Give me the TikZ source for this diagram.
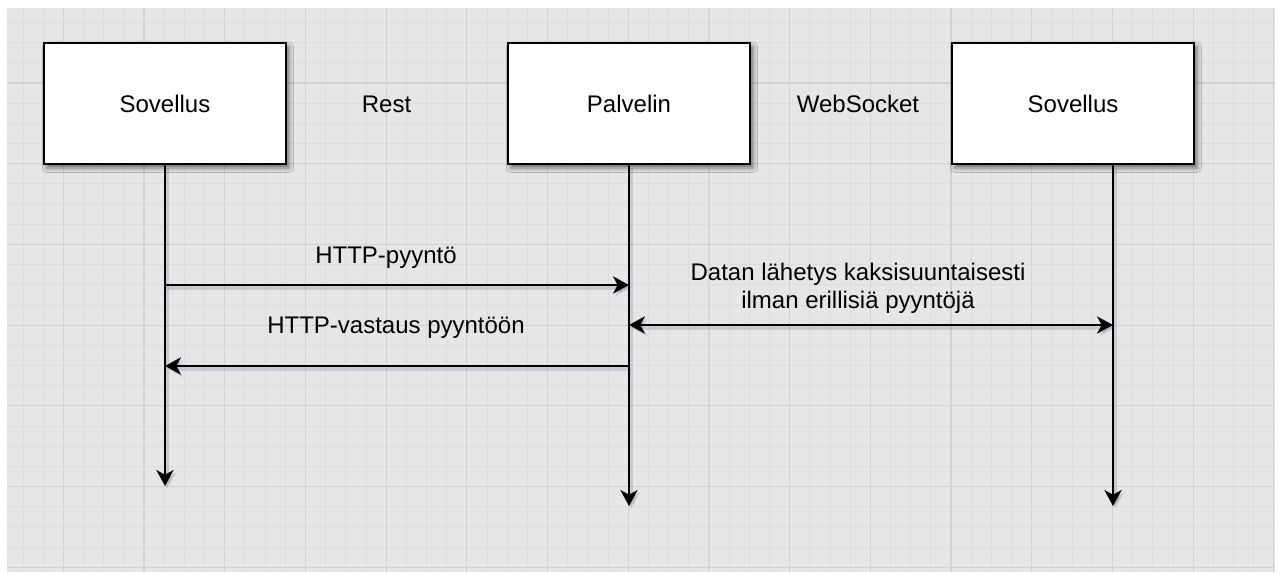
\documentclass[tikz,border=0pt]{standalone}
\usepackage{fontspec}
\setmainfont{Liberation Sans}
\usetikzlibrary{arrows.meta,shadows.blur}

\definecolor{canvas}{HTML}{E6E6E6}
\definecolor{gridminor}{HTML}{DDDDDD}
\definecolor{gridmajor}{HTML}{D2D2D2}
\definecolor{shade}{HTML}{50507A}

\begin{document}
\begin{tikzpicture}[x=0.75pt,y=-0.75pt,
  >={Stealth[length=12pt, width=13pt, inset=3.5pt]},
  txt/.style={font=\fontsize{18}{21}\selectfont},
  lbl/.style={txt, anchor=base, inner sep=0pt},
  actor/.style={txt, draw=black, line width=1.5pt, fill=white,
    minimum width=181.5pt, minimum height=91pt, inner sep=0pt,
    blur shadow={shadow xshift=2.2pt, shadow yshift=-2.8pt,
      shadow blur radius=3.5pt, shadow opacity=55}},
  cast/.style={preaction={draw=shade, draw opacity=0.18, fill opacity=0.18,
    line width=3pt, transform canvas={xshift=1.6pt, yshift=-2pt}}},
  msg/.style={cast, line width=1.5pt, ->},
  both/.style={cast, line width=1.5pt, <->}
]
\useasboundingbox (0,0) rectangle (1280,572);

% canvas with drawing grid
\fill[white] (0,0) rectangle (1280,572);
\fill[canvas] (7,8) rectangle (1275,572);
\foreach \k in {-6,...,56} {
  \pgfmathsetmacro\gx{144+\k*20.175}
  \draw[gridminor, line width=0.6pt] (\gx,8) -- (\gx,572);
}
\foreach \k in {-3,...,24} {
  \pgfmathsetmacro\gy{83+\k*20.175}
  \draw[gridminor, line width=0.6pt] (7,\gy) -- (1275,\gy);
}
\foreach \k in {-1,...,14} {
  \pgfmathsetmacro\gx{144+\k*80.7}
  \draw[gridmajor, line width=0.8pt] (\gx,8) -- (\gx,572);
}
\foreach \k in {0,...,6} {
  \pgfmathsetmacro\gy{83+\k*80.7}
  \draw[gridmajor, line width=0.8pt] (7,\gy) -- (1275,\gy);
}

% participants
\node[actor] (app1) at (165,103.5) {Sovellus};
\node[actor] (srv)  at (629,103.5) {Palvelin};
\node[actor] (app2) at (1073,103.5) {Sovellus};

\node[lbl] (rest) at (386.5,112.3) {Rest};
\node[lbl] (ws)   at (858,112.3) {WebSocket};

% lifelines
\coordinate (end1) at (165,486);
\coordinate (end2) at (629,506);
\coordinate (end3) at (1113,506);
\draw[msg] (app1.south) -- (end1);
\draw[msg] (srv.south) -- (end2);
\draw[msg] (app2.south -| end3) -- (end3);

% messages
\coordinate (reqA) at (165,285);
\coordinate (reqB) at (629,285);
\coordinate (resA) at (629,366);
\coordinate (resB) at (165,366);
\coordinate (wsA)  at (629,325);
\coordinate (wsB)  at (1113,325);

\draw[msg] (reqA) -- (reqB);
\draw[msg] (resA) -- (resB);
\draw[both] (wsA) -- (wsB);

\node[lbl] (reqlbl) at (386,263) {HTTP-pyyntö};
\node[lbl] (reslbl) at (396,333.5) {HTTP-vastaus pyyntöön};
\node[lbl] (wslbl1) at (858,280.7) {Datan lähetys kaksisuuntaisesti};
\node[lbl] (wslbl2) at (858,308.3) {ilman erillisiä pyyntöjä};
\end{tikzpicture}
\end{document}
